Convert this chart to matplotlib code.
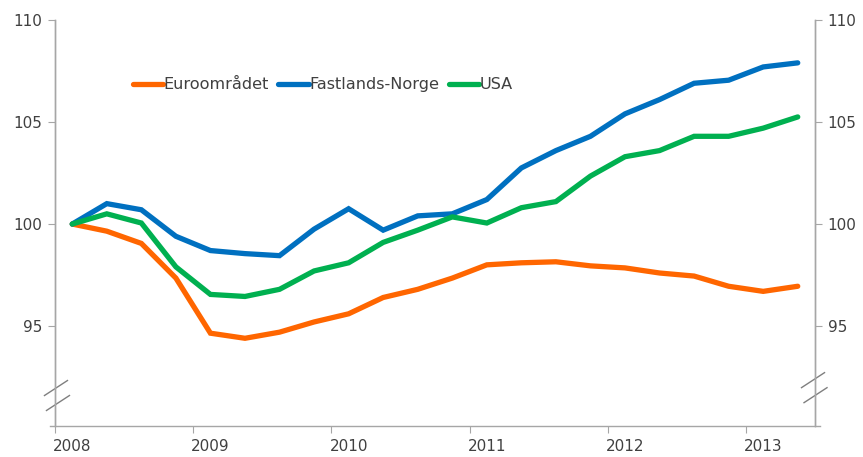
import matplotlib.pyplot as plt
import numpy as np

# Quarterly index, 2008Q1 = 100
years = ["2008", "2009", "2010", "2011", "2012", "2013"]
euro = [100.0, 99.65, 99.05, 97.35, 94.65, 94.4, 94.7, 95.2, 95.6, 96.4, 96.8,
        97.35, 98.0, 98.1, 98.15, 97.95, 97.85, 97.6, 97.45, 96.95, 96.7, 96.95]
norge = [100.0, 101.0, 100.7, 99.4, 98.7, 98.55, 98.45, 99.75, 100.75, 99.7, 100.4,
         100.5, 101.2, 102.75, 103.6, 104.3, 105.4, 106.1, 106.9, 107.05, 107.7, 107.9]
usa = [100.0, 100.5, 100.05, 97.9, 96.55, 96.45, 96.8, 97.7, 98.1, 99.1, 99.7,
       100.35, 100.05, 100.8, 101.1, 102.35, 103.3, 103.6, 104.3, 104.3, 104.7, 105.25]

series = [("Euroområdet", euro, "#FF6600"),
          ("Fastlands-Norge", norge, "#0070C0"),
          ("USA", usa, "#00B050")]

text_col = "#404040"
axis_col = "#A6A6A6"
plt.rcParams['font.family'] = ['DejaVu Sans']

fig = plt.figure(figsize=(8.63, 4.57), dpi=100)
ax = fig.add_axes([0.0637, 0.0678, 0.8807, 0.8884])

x = np.arange(len(euro))
for name, vals, col in series:
    ax.plot(x, vals, color=col, lw=3.8, label=name, solid_capstyle='round',
            solid_joinstyle='miter')

ax.set_xlim(-0.5, len(euro) - 0.5)
ax.set_ylim(90.1, 110)
ax.set_yticks([95, 100, 105, 110])

# year boundaries as ticks, labels under first quarter
ax.set_xticks(np.arange(-0.5, len(euro), 4))
ax.set_xticklabels([])
ax.set_xticks(np.arange(0, len(euro), 4), minor=True)
ax.set_xticklabels(years, minor=True)
ax.tick_params(axis='x', which='major', length=5, color=axis_col, direction='out')
ax.tick_params(axis='x', which='minor', length=0, pad=9, labelsize=11, labelcolor=text_col)
ax.tick_params(axis='y', length=5, color=axis_col, pad=4, labelsize=11, labelcolor=text_col)

ax2 = ax.twinx()
ax2.set_ylim(ax.get_ylim())
ax2.set_yticks([95, 100, 105, 110])
ax2.tick_params(axis='y', length=5, color=axis_col, pad=4, labelsize=11, labelcolor=text_col)

for a in (ax, ax2):
    a.spines['top'].set_visible(False)
    for s in ('left', 'right', 'bottom'):
        a.spines[s].set_color(axis_col)
        a.spines[s].set_linewidth(1.0)
ax2.spines['bottom'].set_visible(False)
ax.spines['bottom'].set_bounds(-0.65, len(euro) - 0.35)

# axis break marks
dx, dy = 11.5 / 760, 7.5 / 406
for cx, cy in [(1 / 760, 0.0936), (3 / 760, 0.0567),
               (1 - 2 / 760, 0.113), (1 + 0.5 / 760, 0.076)]:
    ax.plot([cx - dx, cx + dx], [cy - dy, cy + dy], transform=ax.transAxes,
            color="#7F7F7F", lw=1.0, clip_on=False)

leg = ax.legend(loc='center', bbox_to_anchor=(0.352, 0.84), ncol=3, frameon=False,
                handlelength=1.9, handletextpad=0.0, columnspacing=0.6, fontsize=11.6)
for t in leg.get_texts():
    t.set_color(text_col)

fig.savefig("out.png", dpi=100)
